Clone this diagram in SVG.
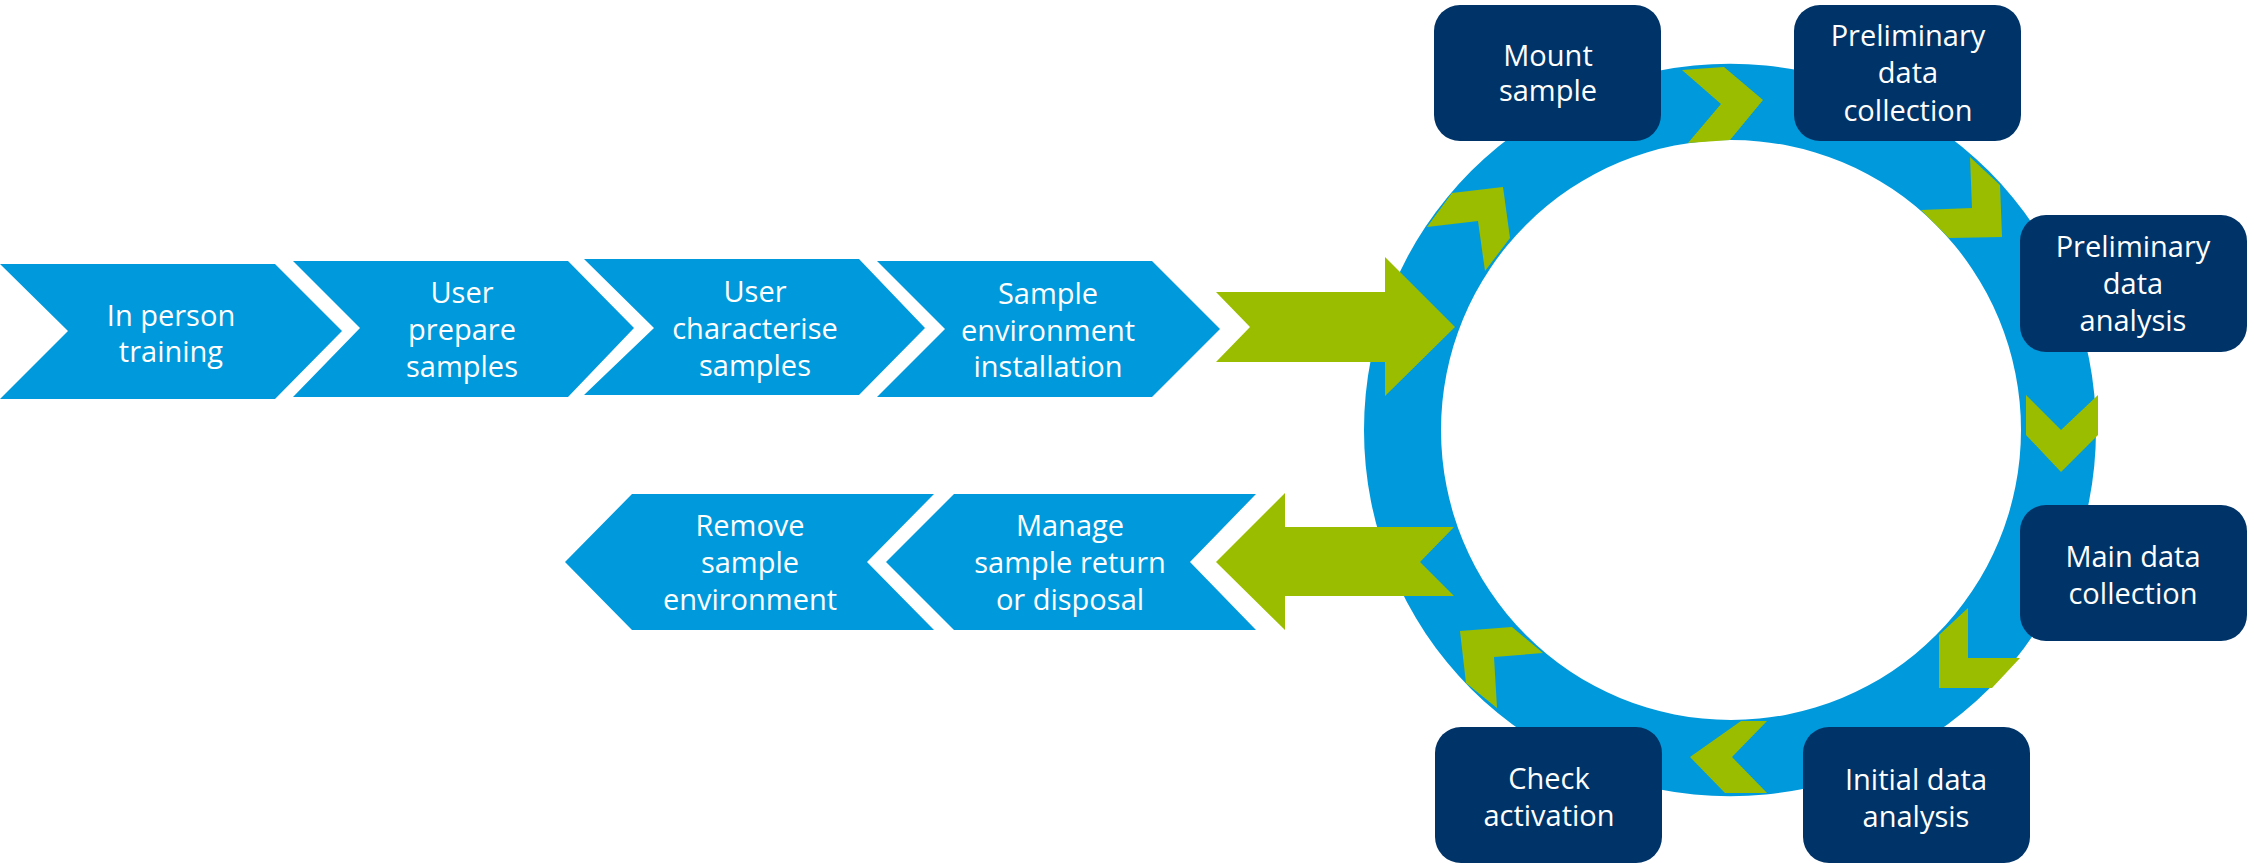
<svg xmlns="http://www.w3.org/2000/svg" width="2254" height="865" viewBox="0 0 2254 865">
<style>
.blue{fill:#009ADC}
.green{fill:#9BBD00}
.box{fill:#003468}
text{font-family:"Open Sans","Noto Sans","DejaVu Sans",sans-serif;font-size:29px;fill:#FFFFFF;text-anchor:middle}
</style>
<rect width="2254" height="865" fill="#FFFFFF"/>
<g id="ring">
<path class="blue" fill-rule="evenodd" d="M1364,430 A366,366 0 1,0 2096,430 A366,366 0 1,0 1364,430 Z M1441,430 A290,290 0 1,0 2021,430 A290,290 0 1,0 1441,430 Z"/>
</g>
<g id="connectors">
<polygon class="green" points="1216,292 1385,292 1385,257 1455,327 1385,396 1385,362 1216,362 1250,327"/>
<polygon class="green" points="1216,562 1285,493 1285,527 1454,527 1420,562 1454,596 1285,596 1285,630"/>
<polygon class="green" points="1682,70 1724,67 1763,100 1730,140 1688,143 1721,104"/>
<polygon class="green" points="1970,157 2000,185 2002,237 1949,238 1921,210 1972,208"/>
<polygon class="green" points="2026,395 2061,430 2098,395 2098,435 2061,472 2026,435"/>
<polygon class="green" points="1968,608 1968,658 2020,658 1992,688 1939,688 1939,635"/>
<polygon class="green" points="1741,721 1767,721 1732,757 1767,793 1725,793 1690,757"/>
<polygon class="green" points="1460,631 1512,627 1543,653 1494,657 1497,708 1466,683"/>
<polygon class="green" points="1452,193 1503,187 1510,238 1485,271 1478,221 1427,227"/>
</g>
<g id="in-person-training">
<polygon class="blue" points="0,264 275,264 342,331 275,399 0,399 68,331"/>
<text x="171" y="326">In person</text>
<text x="171" y="362">training</text>
</g>
<g id="user-prepare-samples">
<polygon class="blue" points="293,261 568,261 634,328 568,397 293,397 360,328"/>
<text x="462" y="303">User</text>
<text x="462" y="340">prepare</text>
<text x="462" y="377">samples</text>
</g>
<g id="user-characterise-samples">
<polygon class="blue" points="584,259 859,259 925,328 859,395 584,395 654,328"/>
<text x="755" y="302">User</text>
<text x="755" y="339">characterise</text>
<text x="755" y="376">samples</text>
</g>
<g id="sample-environment-installation">
<polygon class="blue" points="877,261 1152,261 1220,329 1152,397 877,397 945,329"/>
<text x="1048" y="304">Sample</text>
<text x="1048" y="341">environment</text>
<text x="1048" y="377">installation</text>
</g>
<g id="remove-sample-environment">
<polygon class="blue" points="565,562 632,494 934,494 867,562 934,630 632,630"/>
<text x="750" y="536">Remove</text>
<text x="750" y="573">sample</text>
<text x="750" y="610">environment</text>
</g>
<g id="manage-sample-return">
<polygon class="blue" points="886,562 954,494 1256,494 1190,562 1256,630 954,630"/>
<text x="1070" y="536">Manage</text>
<text x="1070" y="573">sample return</text>
<text x="1070" y="610">or disposal</text>
</g>
<g id="mount-sample">
<rect class="box" x="1434" y="5" width="227" height="136" rx="26"/>
<text x="1548" y="66">Mount</text>
<text x="1548" y="101">sample</text>
</g>
<g id="preliminary-data-collection">
<rect class="box" x="1794" y="5" width="227" height="136" rx="26"/>
<text x="1908" y="46">Preliminary</text>
<text x="1908" y="83">data</text>
<text x="1908" y="121">collection</text>
</g>
<g id="preliminary-data-analysis">
<rect class="box" x="2020" y="215" width="227" height="137" rx="26"/>
<text x="2133" y="257">Preliminary</text>
<text x="2133" y="294">data</text>
<text x="2133" y="331">analysis</text>
</g>
<g id="main-data-collection">
<rect class="box" x="2020" y="505" width="227" height="136" rx="26"/>
<text x="2133" y="567">Main data</text>
<text x="2133" y="604">collection</text>
</g>
<g id="initial-data-analysis">
<rect class="box" x="1803" y="727" width="227" height="136" rx="26"/>
<text x="1916" y="790">Initial data</text>
<text x="1916" y="827">analysis</text>
</g>
<g id="check-activation">
<rect class="box" x="1435" y="727" width="227" height="136" rx="26"/>
<text x="1549" y="789">Check</text>
<text x="1549" y="826">activation</text>
</g>
</svg>
